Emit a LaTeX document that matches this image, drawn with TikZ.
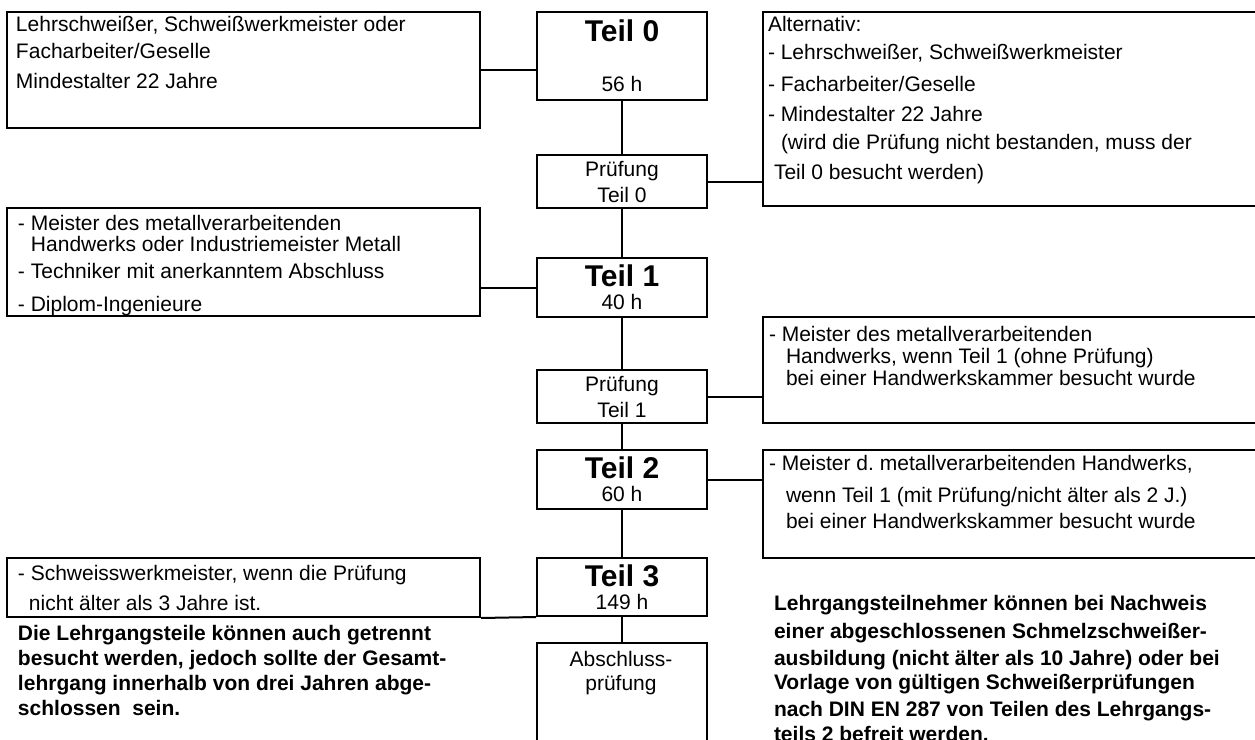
\documentclass[tikz,border=0pt]{standalone}
\usepackage{fontspec}
\setmainfont{Liberation Sans}
\usepackage{tikz}

\newcommand{\stagetitle}[1]{{\fontsize{15}{15}\selectfont\bfseries #1}}

\begin{document}
\begin{tikzpicture}[x=0.5pt, y=-0.5pt, line width=1pt,
            plainbox/.style={draw, anchor=north west, inner sep=0pt},
            stage/.style={draw, anchor=north west, inner sep=0pt, minimum width=85pt, align=center, font=\fontsize{10.5}{11.5}\selectfont},
            note/.style={anchor=north west, inner sep=0pt, align=left, font=\fontsize{10.5}{14}\selectfont}]
        \useasboundingbox (0,0) rectangle (1255,740);
        \clip (0,0) rectangle (1255,740);

        % middle column
        \node[stage, minimum height=44pt] (teil0) at (536,11) {\stagetitle{Teil 0}\\[13.5pt]56 h};
        \node[stage, minimum height=26.5pt] (pr0) at (536,154) {Prüfung\\[1.5pt]Teil 0};
        \node[stage, minimum height=29.5pt] (teil1) at (536,257) {\stagetitle{Teil 1}\\40 h};
        \node[stage, minimum height=26.5pt] (pr1) at (536,369) {Prüfung\\[1.5pt]Teil 1};
        \node[stage, minimum height=29.5pt] (teil2) at (536,449) {\stagetitle{Teil 2}\\60 h};
        \node[stage, minimum height=29pt] (teil3) at (536,557) {\stagetitle{Teil 3}\\149 h};
        \node[plainbox, minimum width=85pt, minimum height=59pt] (absch) at (536,642) {};
        \node[anchor=north, inner sep=0pt, align=center, font=\fontsize{10.5}{12}\selectfont] (abschtext) at (621,650) {Abschluss-\\prüfung};

        % left column
        \node[plainbox, minimum width=236.5pt, minimum height=58pt] (lbox1) at (6,11) {};
        \node[note] (ltext1) at (15,15) {Lehrschweißer, Schweißwerkmeister oder\\[-0.5pt]Facharbeiter/Geselle\\[1pt]Mindestalter 22 Jahre};
        \node[plainbox, minimum width=236.5pt, minimum height=54pt] (lbox2) at (6,207) {};
        \node[note] (ltext2) at (17,214) {- Meister des metallverarbeitenden\\[-3.5pt]\hspace*{6.5pt}Handwerks oder Industriemeister Metall\\[-0.5pt]- Techniker mit anerkanntem Abschluss\\[2.5pt]- Diplom-Ingenieure};
        \node[plainbox, minimum width=236.5pt, minimum height=29.5pt] (lbox4) at (6,557) {};
        \node[note] (ltext4) at (17,564) {- Schweisswerkmeister, wenn die Prüfung\\[1pt]\hspace*{5.5pt}nicht älter als 3 Jahre ist.};
        \node[note, font=\fontsize{10.5}{14}\selectfont\bfseries] (lremark) at (17,624) {Die Lehrgangsteile können auch getrennt\\[-1.5pt]besucht werden, jedoch sollte der Gesamt-\\[-1.5pt]lehrgang innerhalb von drei Jahren abge-\\[-1.5pt]schlossen\ \ sein.};

        % right column
        \node[plainbox, minimum width=254pt, minimum height=97pt] (rbox1) at (762,11) {};
        \node[note] (rtext1) at (767,15) {Alternativ:\\- Lehrschweißer, Schweißwerkmeister\\[2pt]- Facharbeiter/Geselle\\[1pt]- Mindestalter 22 Jahre\\\hspace*{6.5pt}(wird die Prüfung nicht bestanden, muss der\\[1pt]\hspace*{3pt}Teil 0 besucht werden)};
        \node[plainbox, minimum width=254pt, minimum height=53pt] (rbox2) at (762,316) {};
        \node[note] (rtext2) at (768,325) {- Meister des metallverarbeitenden\\[-3pt]\hspace*{8.5pt}Handwerks, wenn Teil 1 (ohne Prüfung)\\[-3pt]\hspace*{8.5pt}bei einer Handwerkskammer besucht wurde};
        \node[plainbox, minimum width=254pt, minimum height=54pt] (rbox3) at (762,449) {};
        \node[note] (rtext3) at (768,454) {- Meister d.\ metallverarbeitenden Handwerks,\\[2pt]\hspace*{8.5pt}wenn Teil 1 (mit Prüfung/nicht älter als 2 J.)\\[-1pt]\hspace*{8.5pt}bei einer Handwerkskammer besucht wurde};
        \node[note, font=\fontsize{10.5}{14}\selectfont\bfseries] (rremark) at (773,594) {Lehrgangsteilnehmer können bei Nachweis\\einer abgeschlossenen Schmelzschweißer-\\[-0.5pt]ausbildung (nicht älter als 10 Jahre) oder bei\\[-2pt]Vorlage von gültigen Schweißerprüfungen\\[-0.5pt]nach DIN EN 287 von Teilen des Lehrgangs-\\[-1.5pt]teils 2 befreit werden.};

        % connectors
        \draw (lbox1.east) -- (lbox1.east -| teil0.west);
        \draw (teil0) -- (pr0);
        \draw (pr0.east) -- (pr0.east -| rbox1.west);
        \draw (pr0) -- (teil1);
        \draw (teil1.west) -- (teil1.west -| lbox2.east);
        \draw (teil1) -- (pr1);
        \draw (pr1.east) -- (pr1.east -| rbox2.west);
        \draw (pr1) -- (teil2);
        \draw (teil2.east) -- (teil2.east -| rbox3.west);
        \draw (teil2) -- (teil3);
        \draw (lbox4.south east) -- (teil3.south west);
        \draw (teil3) -- (absch);
\end{tikzpicture}
\end{document}
